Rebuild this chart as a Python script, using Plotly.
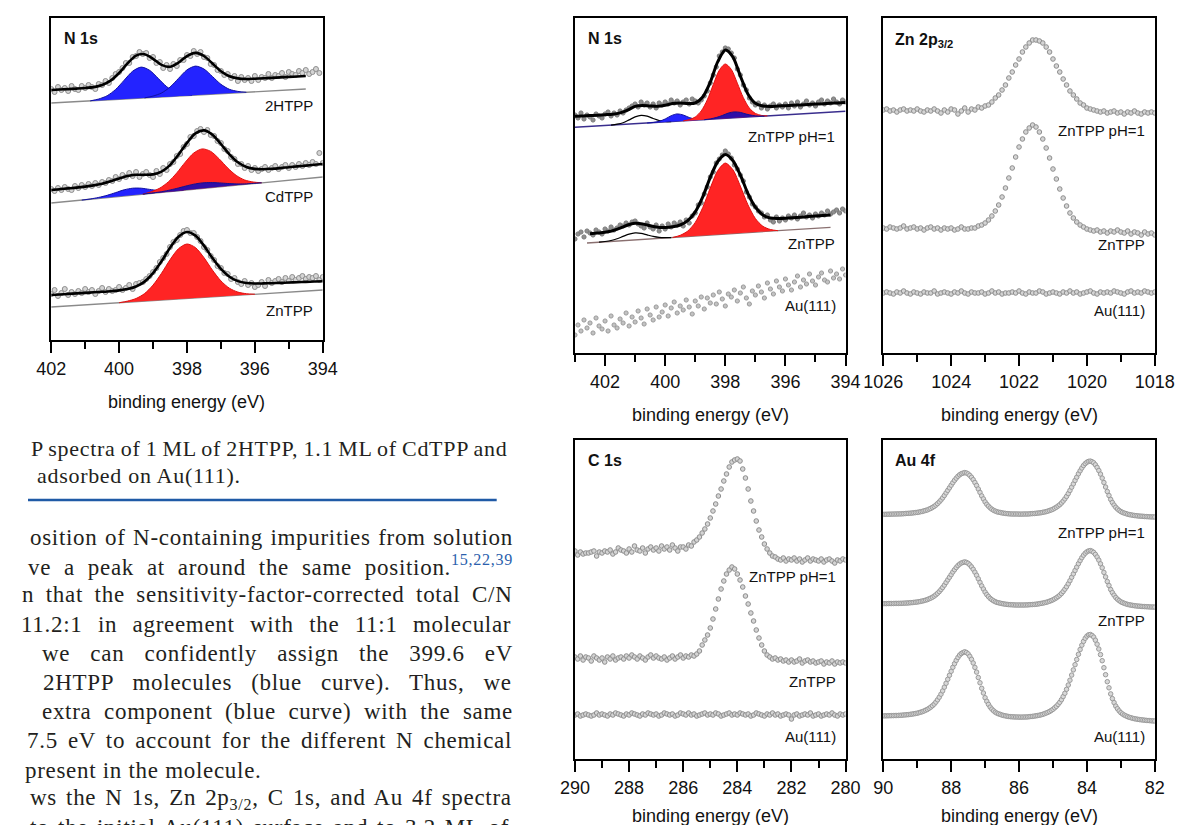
import re
import numpy as np
import plotly.graph_objects as go

W, H = 1190, 825


def grid(start, step, n):
    # energy grid, running from high to low binding energy
    return np.round(start - step * np.arange(n), 3)


# ---------------- left figure: N 1s of 2HTPP / CdTPP / ZnTPP ----------------
h2_base_e = [402, 394.5]
h2_base = [237, 251]
h2_blue1_e = grid(400.85, 0.25, 13)
h2_blue1 = [239.1, 241.0, 244.3, 250.6, 259.8, 268.8, 272.9, 269.7, 261.7, 253.4, 248.0, 245.7, 244.7]
h2_blue2_e = grid(399.25, 0.25, 13)
h2_blue2 = [242.1, 243.9, 247.0, 252.9, 261.6, 270.1, 273.9, 271.0, 263.5, 255.7, 250.7, 248.6, 247.7]
h2_fit_e = grid(402, 0.25, 31)
h2_fit = [250.0, 250.5, 250.9, 251.4, 252.0, 252.9, 255.0, 259.4, 267.0, 276.7,
          284.4, 285.8, 281.2, 275.1, 273.2, 277.4, 283.9, 287.1, 284.0, 276.5,
          268.7, 263.7, 261.6, 261.0, 261.3, 261.7, 262.1, 262.6, 263.1, 263.5, 264.0]
h2_data_e = grid(402, 0.1, 80)
h2_data = [251, 248, 253, 250, 252, 249, 254, 251, 250, 254,
           252, 255, 253, 251, 256, 255, 259, 257, 262, 266,
           268, 272, 277, 277, 283, 284, 288, 286, 287, 282,
           283, 277, 278, 272, 275, 271, 276, 274, 280, 280,
           285, 284, 289, 286, 288, 283, 282, 276, 275, 270,
           269, 265, 266, 262, 264, 259, 263, 260, 262, 259,
           264, 260, 263, 262, 266, 262, 265, 264, 267, 263,
           268, 266, 265, 269, 267, 270, 266, 268, 271, 267]

cd_base_e = [402, 394]
cd_base = [137, 163]
cd_blue1_e = grid(401.1, 0.25, 13)
cd_blue1 = [139.9, 141.0, 142.6, 144.7, 147.4, 150.2, 151.8, 151.8, 150.6, 149.5, 149.1, 149.2, 149.7]
cd_red_e = grid(399.3, 0.25, 15)
cd_red = [145.8, 148.3, 151.9, 158.1, 167.1, 177.8, 187.0, 191.1, 188.6, 181.1, 172.0, 164.6, 160.0, 158.0, 157.2]
cd_blue2 = [145.8, 146.9, 148.0, 149.6, 151.6, 153.8, 155.8, 157.1, 157.4, 157.1, 156.5, 156.1, 156.1, 156.6, 157.2]
cd_fit_e = grid(402, 0.25, 33)
cd_fit = [150.0, 150.8, 151.6, 152.4, 153.4, 154.6, 156.3, 158.7, 161.6, 164.1,
          165.2, 165.2, 165.6, 168.4, 174.9, 185.3, 197.1, 206.6, 209.6, 205.3,
          196.0, 185.7, 177.7, 173.0, 171.1, 170.8, 171.2, 171.9, 172.8, 173.6,
          174.4, 175.2, 176.0]
cd_data_e = grid(402, 0.1, 81)
cd_data = [151, 149, 152, 150, 153, 151, 150, 154, 152, 155,
           153, 156, 154, 157, 155, 158, 157, 160, 159, 163,
           161, 165, 163, 167, 164, 168, 163, 166, 168, 165,
           163, 169, 166, 172, 170, 176, 178, 184, 186, 193,
           196, 203, 204, 209, 211, 208, 210, 205, 204, 199,
           197, 191, 189, 183, 181, 176, 176, 172, 174, 170,
           172, 169, 171, 173, 170, 172, 174, 171, 173, 175,
           172, 175, 173, 176, 174, 177, 175, 178, 176, 187, 177]

zn_base_e = [402, 394]
zn_base = [33, 50]
zn_red_e = grid(400.0, 0.25, 17)
zn_red = [37.25, 38.9, 41.5, 46.4, 54.9, 66.7, 80.2, 91.3, 96.0, 92.4, 82.4, 69.9, 59.1, 51.8, 47.9, 46.3, 45.75]
zn_fit_e = grid(402, 0.25, 33)
zn_fit = [45.0, 45.5, 46.1, 46.6, 47.1, 47.7, 48.2, 48.8, 49.6, 50.9,
          53.5, 58.4, 66.9, 78.7, 92.2, 103.3, 108.0, 104.4, 94.4, 81.9,
          71.1, 63.3, 58.9, 57.0, 56.5, 56.6, 56.8, 57.1, 57.5, 57.8,
          58.1, 58.5, 58.7]
zn_data_e = grid(402, 0.1, 81)
zn_data = [46, 50, 44, 47, 51, 45, 48, 46, 49, 47,
           51, 48, 50, 46, 49, 52, 48, 51, 49, 50,
           53, 50, 52, 55, 51, 56, 57, 58, 61, 64,
           68, 72, 78, 82, 86, 93, 98, 100, 105, 109,
           110, 107, 107, 103, 99, 93, 90, 84, 80, 74,
           72, 67, 66, 61, 62, 58, 56, 59, 55, 57,
           53, 55, 58, 54, 60, 57, 59, 61, 58, 62,
           59, 63, 60, 62, 64, 61, 63, 62, 64, 60, 63]

# ---------------- right figure, N 1s ----------------
ph_base_e = [403, 394]
ph_base = [225.7, 241.7]
ph_small_e = grid(401.8, 0.2, 11)
ph_small = [227.8, 228.8, 230.3, 233.1, 236.1, 237.6, 236.8, 234.5, 232.5, 231.6, 231.4]
ph_blue1_e = grid(400.6, 0.2, 11)
ph_blue1 = [230.0, 230.5, 231.7, 234.0, 237.3, 239.1, 238.0, 235.5, 233.8, 233.4, 233.5]
ph_red_e = grid(399.4, 0.2, 15)
ph_red = [232.1, 233.4, 236.0, 242.1, 253.1, 268.4, 282.8, 289.0, 283.6, 269.8, 255.3, 244.9, 239.6, 237.6, 237.1]
ph_blue2_e = grid(398.7, 0.2, 11)
ph_blue2 = [233.3, 234.1, 235.5, 237.5, 239.9, 241.1, 240.6, 238.9, 237.6, 236.9, 236.9]
ph_fit_e = grid(403, 0.25, 37)
ph_fit = [236.7, 237.1, 237.5, 237.8, 238.3, 238.8, 240.1, 242.9, 246.6, 247.5,
          247.0, 246.8, 247.8, 249.5, 250.0, 249.5, 250.0, 256.0, 270.8, 291.3,
          303.0, 296.2, 277.0, 259.1, 249.8, 247.0, 246.6, 247.0, 247.3, 247.75,
          248.1, 248.5, 248.9, 249.3, 249.65, 250.1, 250.4]
ph_data_e = grid(403, 0.1, 91)
ph_data = [238, 235, 240, 234, 238, 236, 233, 239, 237, 235,
           239, 241, 237, 240, 238, 242, 240, 243, 245, 247,
           249, 246, 251, 248, 250, 246, 249, 245, 250, 248,
           251, 249, 253, 250, 252, 248, 251, 253, 249, 254,
           252, 250, 253, 257, 262, 270, 278, 286, 297, 301,
           305, 304, 300, 295, 284, 278, 268, 263, 255, 251,
           248, 250, 245, 248, 244, 247, 249, 245, 248, 246,
           249, 245, 250, 247, 251, 246, 249, 252, 248, 250,
           247, 251, 253, 249, 252, 250, 254, 251, 249, 253, 251]

zt_base_e = [402.6, 394.5]
zt_base = [110, 125.7]
zt_small_e = grid(402.2, 0.2, 13)
zt_small = [110.8, 111.5, 112.5, 114.2, 116.6, 118.9, 120.1, 119.7, 118.1, 116.6, 115.6, 115.3, 115.4]
zt_red_e = grid(399.75, 0.25, 15)
zt_red = [115.5, 117.7, 121.9, 130.6, 145.5, 165.0, 182.4, 189.9, 183.4, 166.9, 148.4, 134.5, 126.7, 123.5, 122.3]
zt_fit_e = grid(402.5, 0.25, 33)
zt_fit = [119.2, 119.9, 120.7, 122.2, 124.8, 128.0, 129.7, 129.1, 127.2, 125.8,
          125.6, 126.2, 128.0, 132.3, 141.1, 156.1, 175.7, 191.5, 198.5, 192.5,
          178.0, 159.6, 145.8, 138.1, 135.0, 134.5, 134.7, 135.2, 135.8, 136.4,
          136.9, 137.5, 138.1]
zt_data_e = grid(403, 0.1, 91)
zt_data = [114, 119, 121, 116, 122, 120, 118, 123, 121, 119,
           124, 122, 126, 123, 125, 128, 127, 130, 128, 131,
           132, 129, 127, 125, 130, 126, 124, 128, 122, 127,
           124, 129, 126, 130, 128, 131, 127, 133, 130, 137,
           140, 148, 150, 159, 166, 176, 181, 190, 194, 198,
           202, 199, 195, 188, 184, 178, 172, 161, 156, 149,
           146, 142, 140, 136, 138, 133, 131, 136, 132, 135,
           133, 137, 135, 138, 134, 137, 140, 136, 138, 135,
           139, 137, 140, 138, 142, 139, 141, 143, 140, 144, 142]
au_n1s = [18, 28, 22, 33, 25, 30, 20, 35, 27, 24,
          32, 22, 37, 28, 25, 34, 30, 40, 27, 36,
          31, 42, 35, 29, 44, 38, 33, 46, 36, 41,
          48, 37, 45, 51, 40, 47, 43, 53, 46, 39,
          52, 47, 56, 44, 55, 50, 58, 49, 61, 54,
          47, 59, 56, 63, 52, 60, 66, 55, 49, 62,
          58, 67, 61, 55, 70, 64, 59, 72, 66, 62,
          74, 68, 63, 71, 77, 66, 73, 69, 79, 72,
          68, 76, 80, 73, 71, 82, 75, 79, 74, 84, 78]

# ---------------- Zn 2p3/2 ----------------
zn2p_e = grid(1026, 0.1, 81)
zn2p_ph = [243, 244, 242, 243, 241, 243, 244, 242, 243, 242,
           244, 242, 241, 243, 242, 244, 242, 240, 243, 241,
           244, 243, 239, 242, 245, 241, 244, 243, 246, 245,
           247, 248, 251, 255, 258, 263, 268, 275, 281, 288,
           294, 301, 306, 310, 313, 313, 312, 310, 306, 301,
           294, 287, 281, 274, 268, 262, 258, 254, 250, 248,
           245, 244, 243, 242, 241, 242, 240, 241, 242, 240,
           241, 239, 241, 240, 242, 240, 239, 241, 240, 241, 240]
zn2p_zt = [125, 124, 126, 125, 124, 125, 127, 124, 125, 126,
           124, 125, 123, 125, 126, 124, 125, 123, 125, 124,
           125, 123, 124, 126, 124, 124, 125, 125, 127, 128,
           130, 133, 137, 142, 148, 156, 165, 175, 185, 196,
           206, 214, 221, 225, 228, 226, 221, 214, 205, 195,
           184, 174, 164, 155, 147, 140, 135, 131, 128, 126,
           124, 123, 122, 123, 121, 122, 120, 122, 121, 123,
           121, 120, 122, 119, 121, 120, 118, 121, 119, 120, 118]
zn2p_au = [60, 61, 60, 59, 61, 60, 62, 60, 59, 61,
           60, 59, 61, 60, 60, 62, 59, 60, 61, 60,
           59, 61, 60, 62, 60, 59, 61, 60, 60, 61,
           59, 60, 62, 60, 61, 59, 60, 60, 61, 60,
           62, 60, 59, 61, 60, 60, 62, 61, 59, 60,
           61, 60, 59, 61, 60, 62, 60, 61, 59, 60,
           61, 62, 60, 59, 61, 60, 61, 60, 62, 61,
           60, 59, 61, 62, 60, 61, 60, 62, 61, 60, 61]

# ---------------- C 1s ----------------
c1s_e = grid(290, 0.1, 101)
c1s_ph = [208, 204, 207, 205, 206, 206, 207, 208, 203, 207,
          206, 208, 207, 209, 205, 207, 211, 209, 208, 206,
          210, 207, 213, 209, 208, 211, 206, 210, 212, 209,
          211, 208, 213, 210, 212, 209, 214, 211, 208, 212,
          212, 210, 214, 213, 217, 219, 222, 226, 230, 235,
          241, 248, 255, 263, 270, 278, 285, 292, 297, 299,
          300, 298, 290, 281, 270, 258, 248, 238, 229, 222,
          215, 210, 206, 203, 202, 200, 199, 201, 198, 200,
          199, 201, 198, 200, 197, 199, 201, 198, 200, 199,
          198, 200, 197, 199, 200, 198, 196, 199, 198, 200, 199]
c1s_zt = [102, 100, 103, 99, 102, 101, 98, 103, 101, 99,
          101, 97, 102, 100, 103, 99, 101, 102, 100, 103,
          101, 104, 102, 100, 103, 101, 99, 102, 104, 101,
          103, 101, 100, 102, 99, 101, 103, 100, 102, 104,
          101, 103, 102, 104, 103, 105, 108, 114, 119, 124,
          131, 140, 150, 160, 170, 178, 185, 189, 192, 190,
          185, 179, 172, 163, 155, 146, 138, 129, 121, 114,
          108, 104, 102, 100, 101, 99, 100, 98, 99, 97,
          99, 97, 98, 100, 96, 98, 99, 97, 98, 96,
          97, 98, 95, 97, 96, 98, 95, 97, 96, 97, 96]
c1s_au = [44, 45, 43, 44, 45, 44, 43, 44, 46, 44,
          45, 44, 43, 45, 44, 46, 45, 44, 43, 45,
          44, 46, 45, 44, 43, 45, 44, 46, 45, 44,
          45, 43, 44, 46, 45, 44, 45, 43, 44, 46,
          45, 44, 46, 44, 45, 43, 44, 45, 46, 44,
          45, 44, 46, 45, 43, 44, 45, 46, 44, 45,
          44, 46, 45, 44, 45, 43, 44, 46, 45, 44,
          43, 45, 44, 46, 44, 45, 43, 44, 45, 44,
          40, 44, 45, 43, 44, 45, 44, 46, 43, 44,
          45, 43, 44, 45, 44, 46, 44, 43, 45, 44, 45]

# ---------------- Au 4f ----------------
au4f_e = grid(90, 0.05, 161)
au4f_ph = [244.6, 244.7, 244.7, 244.8, 244.8, 244.9, 244.9, 245.0, 245.0, 245.1,
           245.1, 245.2, 245.3, 245.5, 245.6, 245.7, 245.8, 246.0, 246.2, 246.4,
           246.6, 246.9, 247.3, 247.6, 248.1, 248.6, 249.1, 249.9, 250.6, 251.6,
           252.6, 253.9, 255.4, 257.1, 259.0, 261.1, 263.5, 266.1, 268.6, 271.2,
           273.8, 276.3, 278.7, 280.8, 282.7, 284.2, 285.3, 285.9, 286.4,
           286.0, 285.1, 283.6, 281.7, 279.3, 276.5, 273.5, 270.0, 266.6, 263.1,
           260.1, 257.1, 254.7, 252.8, 251.1, 249.8, 248.7, 247.9, 247.2, 246.8,
           246.5, 246.1, 245.8, 245.6, 245.4, 245.2, 245.1, 245.0, 245.0, 245.0,
           245.0, 244.9, 244.9, 244.9, 245.0, 245.0, 245.0, 245.1, 245.3, 245.4,
           245.5, 245.7, 245.9, 246.1, 246.3, 246.7, 247.0, 247.4, 247.9, 248.5,
           249.1, 249.8, 250.8, 251.8, 253.0, 254.3, 256.0, 257.9, 260.1, 262.6,
           265.4, 268.5, 271.8, 275.1, 278.5, 281.8, 285.2, 288.2, 291.0, 293.5,
           295.4, 296.8, 297.6, 297.9,
           297.3, 296.2, 294.2, 291.6, 288.5, 284.9, 280.9, 276.5, 272.0, 267.5,
           263.5, 259.6, 256.5, 253.9, 251.7, 250.0, 248.6, 247.4, 246.6, 245.9,
           245.4, 244.8, 244.4, 244.1, 243.8, 243.5, 243.3, 243.1, 242.9, 242.8,
           242.7, 242.5, 242.4, 242.3, 242.2, 242.1, 242.1, 242.0]
au4f_zt = [155.4, 155.4, 155.4, 155.5, 155.5, 155.5, 155.5, 155.6, 155.6, 155.6,
           155.7, 155.7, 155.8, 155.9, 156.0, 156.1, 156.3, 156.4, 156.6, 156.8,
           157.0, 157.3, 157.6, 158.0, 158.4, 158.9, 159.4, 160.2, 160.9, 161.8,
           162.9, 164.2, 165.7, 167.4, 169.4, 171.5, 173.9, 176.5, 179.1, 181.7,
           184.3, 187.0, 189.3, 191.5, 193.4, 194.9, 196.0, 196.6, 197.1,
           196.6, 195.7, 194.1, 192.1, 189.7, 186.8, 183.7, 180.2, 176.6, 173.1,
           170.0, 166.9, 164.4, 162.4, 160.6, 159.3, 158.2, 157.3, 156.6, 156.2,
           155.8, 155.4, 155.1, 154.8, 154.6, 154.4, 154.3, 154.2, 154.1, 154.0,
           154.0, 154.0, 154.0, 154.0, 154.0, 154.1, 154.1, 154.3, 154.4, 154.5,
           154.6, 154.8, 155.0, 155.3, 155.6, 155.9, 156.3, 156.7, 157.2, 157.8,
           158.5, 159.2, 160.2, 161.2, 162.4, 163.8, 165.5, 167.5, 169.8, 172.3,
           175.2, 178.3, 181.7, 185.1, 188.5, 191.9, 195.3, 198.4, 201.3, 203.8,
           205.8, 207.2, 208.1, 208.4,
           207.8, 206.6, 204.6, 202.0, 198.9, 195.2, 191.2, 186.6, 182.1, 177.5,
           173.5, 169.5, 166.4, 163.8, 161.5, 159.8, 158.4, 157.2, 156.4, 155.7,
           155.1, 154.6, 154.2, 153.9, 153.6, 153.3, 153.1, 152.9, 152.8, 152.6,
           152.5, 152.4, 152.3, 152.2, 152.1, 152.0, 152.0, 151.9]
au4f_au = [43.1, 43.2, 43.2, 43.3, 43.3, 43.4, 43.4, 43.5, 43.5, 43.6,
           43.7, 43.8, 44.0, 44.1, 44.3, 44.4, 44.7, 44.9, 45.2, 45.5,
           45.8, 46.3, 46.8, 47.3, 48.0, 48.8, 49.6, 50.7, 51.9, 53.3,
           54.9, 56.9, 59.2, 61.8, 64.8, 68.1, 71.8, 75.7, 79.7, 83.7,
           87.7, 91.7, 95.3, 98.6, 101.5, 103.9, 105.5, 106.5, 107.2,
           106.5, 105.1, 102.7, 99.7, 96.0, 91.6, 86.9, 81.5, 76.2, 70.7,
           66.0, 61.3, 57.7, 54.6, 51.9, 49.9, 48.2, 46.8, 45.8, 45.1,
           44.6, 43.9, 43.5, 43.1, 42.8, 42.5, 42.3, 42.2, 42.1, 42.0,
           42.0, 41.9, 41.9, 41.9, 42.0, 42.0, 42.1, 42.3, 42.5, 42.65,
           42.9, 43.2, 43.45, 43.8, 44.2, 44.7, 45.3, 46.0, 46.7, 47.5,
           48.6, 49.7, 51.2, 52.7, 54.6, 56.7, 59.3, 62.4, 65.7, 69.7,
           74.0, 78.8, 83.9, 89.1, 94.3, 99.5, 104.7, 109.5, 113.8, 117.6,
           120.7, 122.9, 124.2, 124.5,
           123.6, 121.9, 118.8, 114.8, 110.0, 104.4, 98.3, 91.3, 84.3, 77.3,
           71.2, 65.1, 60.4, 56.4, 52.9, 50.3, 48.1, 46.3, 45.0, 43.9,
           43.1, 42.3, 41.7, 41.2, 40.7, 40.3, 40.0, 39.7, 39.4, 39.2,
           39.0, 38.8, 38.6, 38.5, 38.4, 38.2, 38.1, 38.0]

# panel boxes on the page (px): left, right, top, bottom; y data are px above "ref"
panels = {
    1: dict(box=(24, 305, 10, 332), ref=332, xr=[402, 394]),
    2: dict(box=(566, 846, 10, 345), ref=345, xr=[403, 394]),
    3: dict(box=(885, 1166, 10, 345), ref=345, xr=[1026, 1018]),
    4: dict(box=(566, 846, 432, 751), ref=751, xr=[290, 280]),
    5: dict(box=(885, 1166, 432, 751), ref=751, xr=[90, 82]),
}

RED = '#ff2424'
BLUE = '#2323ff'
SANS = 'Liberation Sans, Arial, sans-serif'
SERIF = 'Liberation Serif, Times New Roman, serif'

fig = go.Figure()


def ax(n):
    return ('x' if n == 1 else f'x{n}'), ('y' if n == 1 else f'y{n}')


def dots(n, x, y, size=5, fill='#d4d4d4', edge='#8e8e8e'):
    xa, ya = ax(n)
    fig.add_trace(go.Scatter(x=x, y=y, mode='markers', xaxis=xa, yaxis=ya,
                             marker=dict(size=size, color=fill, line=dict(color=edge, width=1)),
                             hoverinfo='skip'))


def line(n, x, y, color='black', width=2.6, spline=True):
    xa, ya = ax(n)
    fig.add_trace(go.Scatter(x=x, y=y, mode='lines', xaxis=xa, yaxis=ya,
                             line=dict(color=color, width=width,
                                       shape='spline' if spline else 'linear', smoothing=0.8),
                             hoverinfo='skip'))


def peak(n, x, y, color, edge):
    xa, ya = ax(n)
    # straight foot of the component (it sits on the linear background)
    fig.add_trace(go.Scatter(x=[x[0], x[-1]], y=[y[0], y[-1]], mode='lines', xaxis=xa, yaxis=ya,
                             line=dict(width=0, color=color), hoverinfo='skip'))
    fig.add_trace(go.Scatter(x=x, y=y, mode='lines', xaxis=xa, yaxis=ya, fill='tonexty',
                             fillcolor=color, line=dict(color=edge, width=1, shape='spline', smoothing=0.8),
                             hoverinfo='skip'))


# left panel
dots(1, h2_data_e, h2_data)
line(1, h2_base_e, h2_base, '#8a8a8a', 1.3, False)
peak(1, h2_blue1_e, h2_blue1, BLUE, '#1010a0')
peak(1, h2_blue2_e, h2_blue2, BLUE, '#1010a0')
line(1, h2_fit_e, h2_fit)

dots(1, cd_data_e, cd_data)
line(1, cd_base_e, cd_base, '#8a8a8a', 1.3, False)
peak(1, cd_blue1_e, cd_blue1, BLUE, '#1010a0')
peak(1, cd_red_e, cd_red, RED, '#e01010')
peak(1, cd_red_e, cd_blue2, 'rgba(10,10,190,0.85)', '#101090')
line(1, cd_fit_e, cd_fit)

dots(1, zn_data_e, zn_data)
line(1, zn_base_e, zn_base, '#8a8a8a', 1.3, False)
peak(1, zn_red_e, zn_red, RED, '#e01010')
line(1, zn_fit_e, zn_fit)

# right N 1s
dots(2, ph_data_e, ph_data, 4.2, '#8f8f8f', '#7a7a7a')
line(2, ph_base_e, ph_base, '#3a2e8e', 1.5, False)
line(2, ph_small_e, ph_small, 'black', 1.2)
peak(2, ph_blue1_e, ph_blue1, BLUE, '#1010a0')
peak(2, ph_red_e, ph_red, RED, '#e01010')
peak(2, ph_blue2_e, ph_blue2, 'rgba(10,10,190,0.85)', '#101090')
line(2, ph_fit_e, ph_fit, 'black', 3)

dots(2, zt_data_e, zt_data, 4.2, '#8f8f8f', '#7a7a7a')
line(2, zt_base_e, zt_base, '#8a7070', 1.3, False)
line(2, zt_small_e, zt_small, 'black', 1.2)
peak(2, zt_red_e, zt_red, RED, '#e01010')
line(2, zt_fit_e, zt_fit, 'black', 3)

dots(2, ph_data_e, au_n1s, 4.2, '#c2c2c2', '#9a9a9a')

# Zn 2p, C 1s, Au 4f
for series in (zn2p_ph, zn2p_zt, zn2p_au):
    dots(3, zn2p_e, series, 4.6)
for series in (c1s_ph, c1s_zt, c1s_au):
    dots(4, c1s_e, series, 4.6)
for series in (au4f_ph, au4f_zt, au4f_au):
    dots(5, au4f_e, series, 4.5, '#d8d8d8', '#9a9a9a')

# axes: closed black frame, ticks only at the bottom
layout = {}
for n, p in panels.items():
    l, r, t, b = p['box']
    xk = 'xaxis' if n == 1 else f'xaxis{n}'
    yk = 'yaxis' if n == 1 else f'yaxis{n}'
    layout[xk] = dict(domain=[l / W, r / W], range=p['xr'], anchor=ax(n)[1],
                      showline=True, mirror=True, linecolor='black', linewidth=2,
                      ticks='outside', ticklen=11, tickwidth=2, tickcolor='black',
                      tick0=0, dtick=2,
                      minor=dict(dtick=1, ticks='outside', ticklen=7, tickwidth=2, tickcolor='black'),
                      showgrid=False, zeroline=False,
                      tickfont=dict(family=SANS, size=18, color='#111'))
    layout[yk] = dict(domain=[1 - b / H, 1 - t / H], range=[p['ref'] - b, p['ref'] - t],
                      anchor=ax(n)[0], showline=True, mirror=True, linecolor='black',
                      linewidth=2, ticks='', showticklabels=False, showgrid=False, zeroline=False)

ann = []


def text(px, py, s, size=15, xanchor='right', bold=False, family=SANS, color='#111'):
    if bold:
        s = f'<b>{s}</b>'
    ann.append(dict(x=px / W, y=1 - py / H, xref='paper', yref='paper', text=s, showarrow=False,
                    xanchor=xanchor, yanchor='middle', font=dict(family=family, size=size, color=color)))


# panel titles and sample labels
text(35, 30, 'N 1s', 16, 'left', True)
text(297, 98, '2HTPP')
text(297, 188, 'CdTPP')
text(297, 303, 'ZnTPP')
text(577, 30, 'N 1s', 16, 'left', True)
text(837, 128, 'ZnTPP pH=1')
text(837, 235, 'ZnTPP')
text(838, 297, 'Au(111)')
text(895, 32, 'Zn 2p<sub>3/2</sub>', 16, 'left', True)
text(1158, 123, 'ZnTPP pH=1')
text(1158, 236, 'ZnTPP')
text(1158, 303, 'Au(111)')
text(577, 452, 'C 1s', 16, 'left', True)
text(838, 568, 'ZnTPP pH=1')
text(838, 673, 'ZnTPP')
text(838, 728, 'Au(111)')
text(895, 452, 'Au 4f', 16, 'left', True)
text(1158, 524, 'ZnTPP pH=1')
text(1158, 612, 'ZnTPP')
text(1158, 728, 'Au(111)')

# axis titles
for n, p in panels.items():
    l, r, t, b = p['box']
    text((l + r) / 2, min(b + 62, 808), 'binding energy (eV)', 18, 'center')

# Times-like advance widths (per 1000 em) to justify the page text
TW = dict(zip(" abcdefghijklmnopqrstuvwxyz",
              [250, 444, 500, 444, 500, 444, 333, 500, 500, 278, 278, 500, 278, 778,
               500, 500, 500, 500, 333, 389, 278, 500, 500, 722, 500, 500, 444]))
TW.update(zip("ABCDEFGHIJKLMNOPQRSTUVWXYZ",
              [722, 667, 667, 722, 611, 556, 722, 722, 333, 389, 722, 611, 889,
               722, 722, 556, 722, 667, 556, 611, 722, 722, 944, 722, 722, 611]))
TW.update(zip("0123456789.,:;()-/=", [500] * 10 + [250, 250, 278, 278, 333, 333, 333, 278, 564]))
LETTER = 0.7  # extra tracking, the page font is wider than Times


def natural_width(s, size):
    w = 0.0
    for part in re.split(r'(<su[bp]>.*?</su[bp]>)', s):
        scale = 0.7 if part.startswith('<su') else 1.0
        plain = re.sub(r'<[^>]+>', '', part)
        w += sum(TW.get(c, 500) for c in plain) * size * scale / 1000 + LETTER * len(plain)
    return w


def page_line(x0, py, s, size, justify, right=483):
    style = f'letter-spacing:{LETTER}px'
    if justify:
        gaps = re.sub(r'<[^>]+>', '', s).count(' ')
        extra = (right - x0 - natural_width(s, size)) / max(gaps, 1)
        style += f';word-spacing:{extra:.2f}px'
    text(x0, py, f"<span style='{style}'>{s}</span>", size, 'left', False, SERIF, '#231f20')


# caption and body text of the page (cropped at the left edge)
caption = [(1, 440, 'P spectra of 1 ML of 2HTPP, 1.1 ML of CdTPP and', True),
           (7, 467, 'adsorbed on Au(111).', False)]
body = [(0, 529, 'osition of N-containing impurities from solution', True),
        (-2, 557, "ve a peak at around the same position.<sup><span style='color:#2b5fad'>15,22,39</span></sup>", True),
        (-8, 586, 'n that the sensitivity-factor-corrected total C/N', True),
        (-9, 616, '11.2:1 in agreement with the 11:1 molecular', True),
        (12, 645, 'we can confidently assign the 399.6 eV', True),
        (13, 674, '2HTPP molecules (blue curve). Thus, we', True),
        (12, 703, 'extra component (blue curve) with the same', True),
        (-3, 732, '7.5 eV to account for the different N chemical', True),
        (-5, 762, 'present in the molecule.', False),
        (0, 791, 'ws the N 1s, Zn 2p<sub>3/2</sub>, C 1s, and Au 4f spectra', True),
        (0, 819, 'to the initial Au(111) surface and to 3.2 ML of', True)]
for x0, y0, s, j in caption:
    page_line(x0, y0, s, 22, j)
for x0, y0, s, j in body:
    page_line(x0, y0, s, 23, j)

fig.update_layout(
    width=W, height=H, margin=dict(l=0, r=0, t=0, b=0),
    paper_bgcolor='white', plot_bgcolor='white', showlegend=False,
    annotations=ann,
    shapes=[dict(type='line', xref='paper', yref='paper', x0=0, x1=485 / W,
                 y0=1 - 492 / H, y1=1 - 492 / H, line=dict(color='#1f5aa6', width=2.5))],
    **layout)

fig.write_html('out.html')
